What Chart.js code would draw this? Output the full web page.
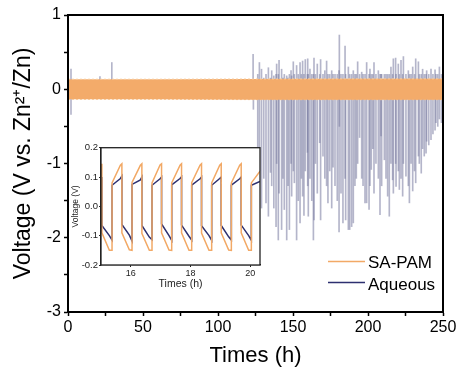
<!DOCTYPE html>
<html>
<head>
<meta charset="utf-8">
<script src="https://cdn.jsdelivr.net/npm/chart.js@4.4.0/dist/chart.umd.min.js"></script>
<style>
    html, body { margin: 0; padding: 0; background: #ffffff; }
    #wrap { position: relative; width: 463px; height: 374px; }
    #mainChart { position: absolute; left: 0; top: 0; }
    #insetChart { position: absolute; left: 70px; top: 141px; }
</style>
</head>
<body>
<div id="wrap">
    <canvas id="mainChart" width="463" height="374"></canvas>
    <canvas id="insetChart" width="193" height="152"></canvas>
</div>
<script>
// Zn symmetric cell - voltage profile, SA-PAM vs aqueous electrolyte

// main axes
const mainXTicks = [0, 25, 50, 75, 100, 125, 150, 175, 200, 225, 250];
const mainYTicks = [1, 0.5, 0, -0.5, -1, -1.5, -2, -2.5, -3];

// SA-PAM: dense cycling band, upper/lower envelope (V)
const bandTimes = [0, 60, 125, 190, 250];
const bandUpper = [0.135, 0.135, 0.138, 0.14, 0.14];
const bandLower = [-0.135, -0.135, -0.14, -0.14, -0.14];

// Aqueous: voltage spikes (h, low V, high V)
const spikeTimes = [2.0, 21.3, 29.2, 123.4, 123.6, 126.5, 127.6, 129.0, 130.5, 132.0, 133.6, 135.0, 135.8,
    137.2, 138.7, 139.1, 140.2, 140.7, 142.4, 143.3, 144.2, 145.8, 146.7, 147.6, 148.7, 149.1,
    150.2, 150.9, 152.4, 153.5, 154.7, 155.6, 156.4, 157.3, 158.2, 159.6, 159.8, 160.2, 161.3,
    162.5, 163.6, 164.0, 165.0, 166.2, 167.8, 168.4, 170.0, 171.2, 172.4, 173.3, 174.5, 175.8,
    176.7, 178.0, 179.5, 180.7, 180.9, 182.0, 183.3, 184.7, 185.1, 186.9, 187.8, 189.1, 190.2,
    191.3, 192.2, 193.1, 194.4, 195.8, 196.7, 198.0, 199.1, 200.7, 201.3, 202.2, 203.2, 204.0,
    205.3, 206.9, 208.0, 208.7, 209.1, 210.9, 212.0, 213.1, 214.2, 215.3, 216.4, 216.9, 218.4,
    218.7, 220.2, 220.9, 222.0, 223.1, 223.6, 225.3, 226.9, 227.6, 228.7, 229.8, 231.0, 231.8,
    233.6, 234.2, 235.5, 236.4, 237.5, 238.7, 239.1, 240.5, 242.0, 243.3, 244.7, 245.3, 246.5,
    247.6, 249.0];
const spikeLow = [-0.34, 0, 0, -0.1, -0.27, -0.85, -1.1, -1.6, -1.2, -1.53, -1.71, -1.12, -1.3,
    -1.6, -1.85, -1.0, -2.03, -1.4, -1.89, -1.2, -1.62, -2.03, -1.3, -1.89, -1.0, -1.44,
    -1.1, -1.26, -2.03, -1.5, -1.8, -1.2, -1.44, -1.7, -1.1, -0.85, -1.3, -1.71, -1.2,
    -1.5, -2.03, -1.76, -1.0, -1.4, -0.72, -1.76, -0.9, -1.2, -1.3, -1.53, -1.1, -1.6,
    -1.05, -1.3, -1.5, -1.92, -0.5, -1.4, -1.8, -1.2, -1.76, -1.89, -1.89, -1.85, -1.8,
    -1.3, -1.2, -1.0, -0.65, -1.2, -1.3, -1.53, -1.53, -1.62, -1.3, -1.08, -0.8, -1.4,
    -1.0, -1.2, -1.69, -0.63, -1.3, -0.95, -1.2, -1.44, -1.71, -1.0, -1.22, -1.4, -1.0,
    -1.31, -1.1, -1.35, -1.2, -1.44, -1.0, -1.17, -1.3, -1.53, -1.0, -1.37, -1.1, -1.26,
    -0.9, -1.0, -1.13, -0.8, -0.9, -0.86, -0.7, -0.75, -0.68, -0.6, -0.55, -0.45, -0.5,
    -0.4, -0.45];
const spikeHigh = [0.27, 0.17, 0.36, 0.47, 0.1, 0.2, 0.36, 0.27, 0.15, 0.2, 0.29, 0.15, 0.25,
    0.18, 0.2, 0.34, 0.2, 0.39, 0.27, 0.15, 0.2, 0.18, 0.15, 0.2, 0.25, 0.18,
    0.37, 0.2, 0.32, 0.2, 0.36, 0.2, 0.38, 0.2, 0.4, 0.2, 0.41, 0.2, 0.27,
    0.2, 0.2, 0.42, 0.2, 0.34, 0.2, 0.4, 0.2, 0.25, 0.38, 0.2, 0.2, 0.25,
    0.2, 0.2, 0.2, 0.25, 0.73, 0.2, 0.2, 0.58, 0.2, 0.3, 0.2, 0.2, 0.25,
    0.2, 0.2, 0.37, 0.2, 0.23, 0.2, 0.2, 0.36, 0.2, 0.27, 0.2, 0.2, 0.36,
    0.2, 0.25, 0.2, 0.2, 0.2, 0.2, 0.2, 0.2, 0.2, 0.3, 0.2, 0.41, 0.42,
    0.2, 0.34, 0.2, 0.39, 0.2, 0.44, 0.2, 0.25, 0.2, 0.2, 0.3, 0.2, 0.41,
    0.37, 0.2, 0.2, 0.27, 0.2, 0.2, 0.25, 0.2, 0.27, 0.2, 0.26, 0.2, 0.2,
    0.3, 0.2];

// inset: zoom 15-20 h
const insetXTicks = [16, 18, 20];
const insetYTicks = [-0.2, -0.1, 0, 0.1, 0.2];
const insetTimes = [15.00,
    15.03, 15.03, 15.28, 15.37, 15.37, 15.65,
    15.70, 15.70, 15.95, 16.04, 16.04, 16.32,
    16.37, 16.37, 16.62, 16.71, 16.71, 16.98,
    17.03, 17.03, 17.28, 17.37, 17.37, 17.65,
    17.70, 17.70, 17.95, 18.04, 18.04, 18.32,
    18.37, 18.37, 18.62, 18.71, 18.71, 18.98,
    19.03, 19.03, 19.28, 19.37, 19.37, 19.65,
    19.70, 19.70, 19.95, 20.04, 20.04, 20.33];
const insetSAPAM = [0.145,
    0.145, -0.09, -0.15, -0.15, 0.08, 0.14,
    0.145, -0.09, -0.148, -0.15, 0.082, 0.14,
    0.145, -0.092, -0.15, -0.15, 0.08, 0.141,
    0.145, -0.09, -0.149, -0.15, 0.08, 0.14,
    0.145, -0.09, -0.15, -0.15, 0.081, 0.14,
    0.145, -0.091, -0.15, -0.15, 0.08, 0.14,
    0.145, -0.09, -0.149, -0.15, 0.08, 0.14,
    0.145, -0.09, -0.15, -0.15, 0.08, 0.12];
const insetAqueous = [0.1,
    0.1, -0.065, -0.1, -0.115, 0.072, 0.095,
    0.103, -0.062, -0.098, -0.118, 0.075, 0.09,
    0.1, -0.065, -0.105, -0.114, 0.072, 0.094,
    0.1, -0.06, -0.1, -0.116, 0.073, 0.095,
    0.101, -0.064, -0.102, -0.115, 0.072, 0.094,
    0.1, -0.066, -0.1, -0.116, 0.072, 0.095,
    0.1, -0.065, -0.104, -0.115, 0.072, 0.094,
    0.1, -0.064, -0.1, -0.116, 0.072, 0.085];

const ORANGE = '#f2a966';
const NAVY = '#2d3070';
const FONT = 'Liberation Sans, Arial, sans-serif';

document.addEventListener('DOMContentLoaded', function() {
    initMainChart();
    initInsetChart();
});

function toPoints(xs, ys) {
    return xs.map((x, i) => ({ x: x, y: ys[i] }));
}

// box border + legend drawn on top
const mainDecor = {
    id: 'mainDecor',
    afterDraw(chart) {
        const ctx = chart.ctx;
        const a = chart.chartArea;
        ctx.save();
        ctx.strokeStyle = '#000';
        ctx.lineWidth = 2;
        ctx.strokeRect(a.left, a.top, a.right - a.left, a.bottom - a.top);

        ctx.lineWidth = 1.6;
        ctx.strokeStyle = ORANGE;
        ctx.beginPath(); ctx.moveTo(328, 261.5); ctx.lineTo(365, 261.5); ctx.stroke();
        ctx.strokeStyle = NAVY;
        ctx.beginPath(); ctx.moveTo(328, 282.5); ctx.lineTo(365, 282.5); ctx.stroke();

        ctx.fillStyle = '#000';
        ctx.font = '17px ' + FONT;
        ctx.textBaseline = 'alphabetic';
        ctx.textAlign = 'left';
        ctx.fillText('SA-PAM', 368, 268);
        ctx.fillText('Aqueous', 368, 289.5);
        ctx.restore();
    }
};

function initMainChart() {
    const ctx = document.getElementById('mainChart').getContext('2d');

    const spikes = spikeTimes.map((t, i) => ({ x: t, y: [spikeLow[i], spikeHigh[i]] }));

    new Chart(ctx, {
        type: 'line',
        data: {
            datasets: [
                {
                    label: 'SA-PAM',
                    data: toPoints(bandTimes, bandUpper),
                    borderColor: '#f8cb9c',
                    borderWidth: 1,
                    borderDash: [2, 2],
                    backgroundColor: '#f3ab6a',
                    fill: '+1',
                    pointRadius: 0,
                    tension: 0,
                    order: 0
                },
                {
                    label: 'SA-PAM lower',
                    data: toPoints(bandTimes, bandLower),
                    borderColor: '#f8cb9c',
                    borderWidth: 1,
                    borderDash: [2, 2],
                    fill: false,
                    pointRadius: 0,
                    tension: 0,
                    order: 0
                },
                {
                    type: 'bar',
                    label: 'Aqueous',
                    data: spikes,
                    backgroundColor: 'rgba(118, 121, 158, 0.55)',
                    borderWidth: 0,
                    barThickness: 1,
                    grouped: false,
                    order: 1
                }
            ]
        },
        options: {
            responsive: false,
            animation: false,
            events: [],
            layout: { padding: { top: 15, right: 20, bottom: 5, left: 0 } },
            plugins: {
                legend: { display: false },
                tooltip: { enabled: false }
            },
            scales: {
                x: {
                    type: 'linear',
                    min: 0,
                    max: 250,
                    offset: false,
                    afterBuildTicks: function(scale) {
                        scale.ticks = mainXTicks.map(v => ({ value: v }));
                    },
                    afterFit: function(scale) { scale.height = 57; },
                    grid: {
                        offset: false,
                        drawOnChartArea: false,
                        tickLength: 4,
                        tickWidth: 1.5,
                        tickColor: '#000'
                    },
                    border: { color: '#000', width: 2 },
                    ticks: {
                        color: '#000',
                        padding: 2,
                        maxRotation: 0,
                        autoSkip: false,
                        font: { family: FONT, size: 16 },
                        callback: function(value) {
                            return value % 50 === 0 ? value : '';
                        }
                    },
                    title: {
                        display: true,
                        text: 'Times (h)',
                        color: '#000',
                        font: { family: FONT, size: 22 },
                        padding: { top: 0, bottom: 0 }
                    }
                },
                y: {
                    min: -3,
                    max: 1,
                    afterBuildTicks: function(scale) {
                        scale.ticks = mainYTicks.map(v => ({ value: v }));
                    },
                    afterFit: function(scale) { scale.width = 68; },
                    grid: {
                        drawOnChartArea: false,
                        tickLength: 4,
                        tickWidth: 1.5,
                        tickColor: '#000'
                    },
                    border: { color: '#000', width: 2 },
                    ticks: {
                        color: '#000',
                        padding: 3,
                        autoSkip: false,
                        font: { family: FONT, size: 16 },
                        callback: function(value) {
                            return Number.isInteger(value) ? value : '';
                        }
                    },
                    title: {
                        display: true,
                        text: 'Voltage (V vs. Zn²⁺/Zn)',
                        color: '#000',
                        font: { family: FONT, size: 23 },
                        padding: { top: 10, bottom: 0 }
                    }
                }
            }
        },
        plugins: [mainDecor]
    });
}

const insetDecor = {
    id: 'insetDecor',
    beforeDatasetsDraw(chart) {
        const ctx = chart.ctx;
        const a = chart.chartArea;
        ctx.save();
        ctx.fillStyle = '#fff';
        ctx.fillRect(a.left, a.top, a.right - a.left, a.bottom - a.top);
        ctx.restore();
    },
    afterDraw(chart) {
        const ctx = chart.ctx;
        const a = chart.chartArea;
        ctx.save();
        ctx.strokeStyle = '#222';
        ctx.lineWidth = 1.3;
        ctx.strokeRect(a.left, a.top, a.right - a.left, a.bottom - a.top);
        ctx.restore();
    }
};

function initInsetChart() {
    const ctx = document.getElementById('insetChart').getContext('2d');

    new Chart(ctx, {
        type: 'line',
        data: {
            datasets: [
                {
                    label: 'SA-PAM',
                    data: toPoints(insetTimes, insetSAPAM),
                    borderColor: ORANGE,
                    borderWidth: 1.5,
                    pointRadius: 0,
                    tension: 0,
                    fill: false
                },
                {
                    label: 'Aqueous',
                    data: toPoints(insetTimes, insetAqueous),
                    borderColor: NAVY,
                    borderWidth: 1.5,
                    pointRadius: 0,
                    tension: 0,
                    fill: false
                }
            ]
        },
        options: {
            responsive: false,
            animation: false,
            events: [],
            layout: { padding: { top: 6, right: 3, bottom: 3, left: 0 } },
            plugins: {
                legend: { display: false },
                tooltip: { enabled: false }
            },
            scales: {
                x: {
                    type: 'linear',
                    min: 15,
                    max: 20.33,
                    afterBuildTicks: function(scale) {
                        scale.ticks = insetXTicks.map(v => ({ value: v }));
                    },
                    afterFit: function(scale) { scale.height = 25; },
                    grid: { drawOnChartArea: false, tickLength: 2, tickColor: '#222' },
                    border: { color: '#222', width: 1.3 },
                    ticks: {
                        color: '#222',
                        padding: 1,
                        maxRotation: 0,
                        autoSkip: false,
                        font: { family: FONT, size: 9 }
                    },
                    title: {
                        display: true,
                        text: 'Times (h)',
                        color: '#222',
                        font: { family: FONT, size: 10.5 },
                        padding: { top: 0, bottom: 0 }
                    }
                },
                y: {
                    min: -0.2,
                    max: 0.2,
                    afterBuildTicks: function(scale) {
                        scale.ticks = insetYTicks.map(v => ({ value: v }));
                    },
                    afterFit: function(scale) { scale.width = 31; },
                    grid: { drawOnChartArea: false, tickLength: 2, tickColor: '#222' },
                    border: { color: '#222', width: 1.3 },
                    ticks: {
                        color: '#222',
                        padding: 1,
                        autoSkip: false,
                        font: { family: FONT, size: 9.5 },
                        callback: function(value) { return value.toFixed(1); }
                    },
                    title: {
                        display: true,
                        text: 'Voltage (V)',
                        color: '#222',
                        font: { family: FONT, size: 8.5 },
                        padding: { top: 1, bottom: 0 }
                    }
                }
            }
        },
        plugins: [insetDecor]
    });
}
</script>
</body>
</html>
